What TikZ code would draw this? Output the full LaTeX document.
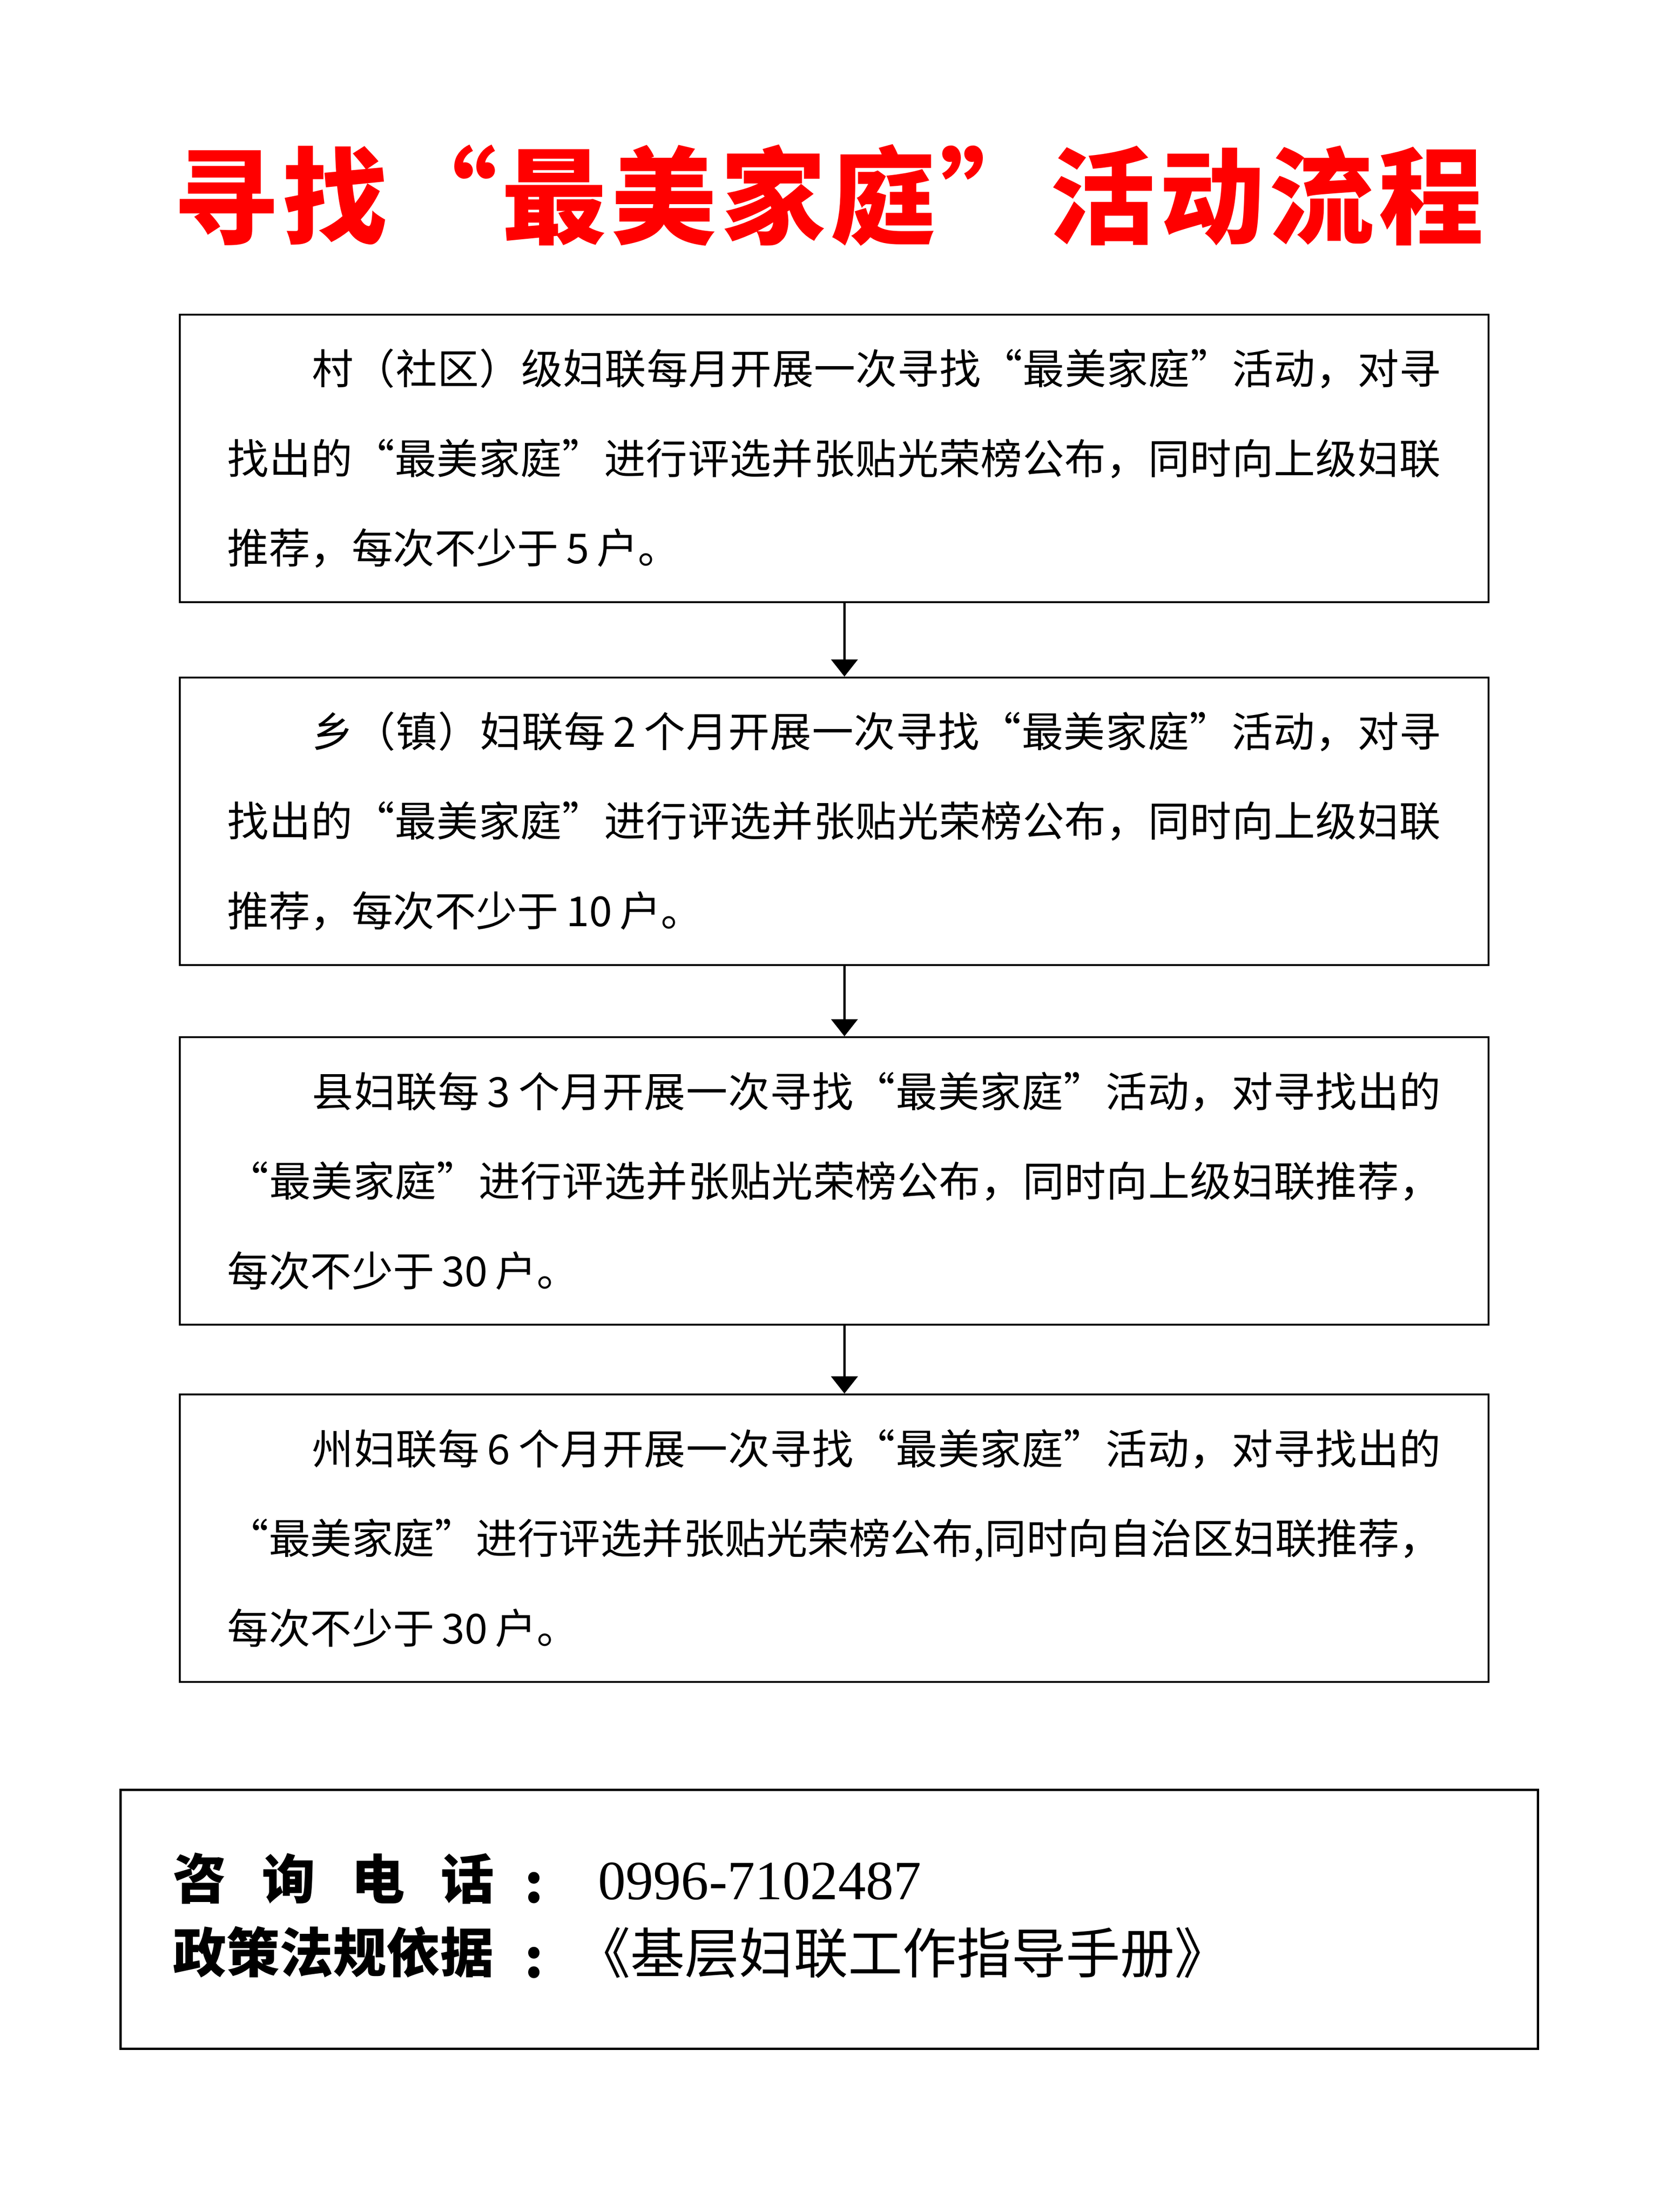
\documentclass[tikz,border=0pt]{standalone}
\usepackage{fontspec}
\newfontfamily\cjk{Noto Sans CJK SC}
\newfontfamily\numfont{Liberation Serif}
\usetikzlibrary{arrows.meta}
\definecolor{titlered}{RGB}{255,0,0}
% spread characters of a line evenly over a given width
\def\spreadendmark{\spreadend}
\def\spreadglue{\hskip 0pt plus 1fil minus 0.15em\relax}
\def\spreadaux#1{\def\spreadtmp{#1}\ifx\spreadtmp\spreadendmark\else\spreadglue#1\expandafter\spreadaux\fi}
\def\spreadfirst#1{#1\spreadaux}
\newcommand\jline[3][0pt]{\hbox to #2{\hskip#1\relax\spreadfirst#3\spreadend}}
\newcommand\nline[2]{\hbox to #1{#2\hfil}}
\newcommand\dg[1]{{\hspace{0.18em}#1\hspace{0.18em}}}
\newlength\lw
\setlength\lw{21.94cm}
\tikzset{
  stage/.style={draw, line width=0.9pt, minimum width=23.67cm, minimum height=5.2cm,
    inner sep=0pt, font=\cjk\fontsize{21.3pt}{1.62cm}\selectfont},
  conn/.style={line width=1.1pt, -{Triangle[length=0.31cm,width=0.48cm]}},
  infobox/.style={draw, line width=1.2pt, minimum width=25.63cm, minimum height=4.68cm, inner sep=0pt},
  lbl/.style={inner sep=0pt, font=\cjk\bfseries\fontsize{27.5pt}{30pt}\selectfont},
  titlestyle/.style={inner sep=0pt, text=titlered, font=\cjk\bfseries\fontsize{54pt}{60pt}\selectfont}
}
\begin{document}
\begin{tikzpicture}
\useasboundingbox (0,0) rectangle (30,-40);
\fill[white] (0,0) rectangle (30,-40);

\node[titlestyle] (title) at (14.98,-3.53) {\jline{23.7cm}{寻找“最美家庭”活动流程}};

\node[stage] (b1) at (15.085,-8.29) {\vbox{\baselineskip=1.62cm\relax
  \jline[1.53cm]{\lw}{村（社区）级妇联每月开展一次寻找“最美家庭”活动，对寻}
  \jline{\lw}{找出的“最美家庭”进行评选并张贴光荣榜公布，同时向上级妇联}
  \nline{\lw}{推荐，每次不少于\dg{5}户。}}\hspace{0.1cm}};

\node[stage] (b2) at (15.085,-14.85) {\vbox{\baselineskip=1.62cm\relax
  \jline[1.53cm]{\lw}{乡（镇）妇联每{\dg{2}}个月开展一次寻找“最美家庭”活动，对寻}
  \jline{\lw}{找出的“最美家庭”进行评选并张贴光荣榜公布，同时向上级妇联}
  \nline{\lw}{推荐，每次不少于\dg{10}户。}}\hspace{0.1cm}};

\node[stage] (b3) at (15.085,-21.355) {\vbox{\baselineskip=1.62cm\relax
  \jline[1.53cm]{\lw}{县妇联每{\dg{3}}个月开展一次寻找“最美家庭”活动，对寻找出的}
  \jline{\lw}{“最美家庭”进行评选并张贴光荣榜公布，同时向上级妇联推荐，}
  \nline{\lw}{每次不少于\dg{30}户。}}\hspace{0.1cm}};

\node[stage] (b4) at (15.085,-27.815) {\vbox{\baselineskip=1.62cm\relax
  \jline[1.53cm]{\lw}{州妇联每{\dg{6}}个月开展一次寻找“最美家庭”活动，对寻找出的}
  \jline{\lw}{“最美家庭”进行评选并张贴光荣榜公布,同时向自治区妇联推荐，}
  \nline{\lw}{每次不少于\dg{30}户。}}\hspace{0.1cm}};

\coordinate (ax) at (15.27,0);
\draw[conn] (b1.south -| ax) -- (b2.north -| ax);
\draw[conn] (b2.south -| ax) -- (b3.north -| ax);
\draw[conn] (b3.south -| ax) -- (b4.north -| ax);

\node[infobox] (info) at (14.995,-34.71) {};
\node[lbl, anchor=west] (tellbl) at (3.12,-33.965) {\jline{5.81cm}{咨询电话}};
\node[lbl] (telcol) at (9.66,-34.14) {:};
\node[anchor=base west, inner sep=0pt, font=\numfont\fontsize{28.5pt}{30pt}\selectfont] (telval) at (10.81,-34.35) {0996-7102487};
\node[lbl, anchor=west] (lawlbl) at (3.12,-35.30) {政策法规依据};
\node[lbl] (lawcol) at (9.66,-35.49) {:};
\node[anchor=west, inner sep=0pt, font=\cjk\fontsize{28pt}{30pt}\selectfont] (lawval) at (10.41,-35.31) {《基层妇联工作指导手册》};
\end{tikzpicture}
\end{document}
